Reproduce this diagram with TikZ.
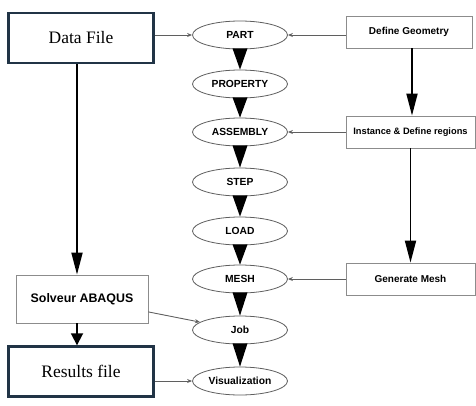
\documentclass[tikz,border=0pt]{standalone}
\usepackage{fontspec}
\setmainfont{Liberation Serif}
\setsansfont{Liberation Sans}
\usetikzlibrary{arrows.meta,shapes.geometric,calc}
\definecolor{boxblue}{RGB}{33,52,70}
\definecolor{linegray}{RGB}{95,95,95}
\definecolor{boxgray}{RGB}{140,140,140}

\begin{document}
\begin{tikzpicture}[x=1pt,y=-1pt,
  stage/.style={ellipse,draw=linegray,fill=white,line width=0.8pt,minimum width=95pt,minimum height=28pt,inner sep=0pt,font=\sffamily\bfseries\fontsize{10.3}{12}\selectfont},
  filebox/.style={rectangle,draw=boxblue,line width=2.4pt,minimum width=145pt,minimum height=50pt,font=\fontsize{17.5}{20}\selectfont},
  taskbox/.style={rectangle,draw=boxgray,line width=0.8pt,minimum height=32pt,inner sep=0pt,font=\sffamily\bfseries\fontsize{10}{12}\selectfont},
  feed/.style={draw=linegray,line width=0.9pt,-{Stealth[length=5pt,width=4pt]}},
  flow/.style={draw=black,line width=1.8pt,-{Triangle[width=11pt,length=22pt]}}]
  \useasboundingbox (0,0) rectangle (476,405);
  \node[filebox] (datafile) at (81,38) {Data File};
  \node[filebox] (results) at (81,371.5) {Results file};
  \node[taskbox,minimum width=132pt,minimum height=48pt,font=\sffamily\bfseries\fontsize{12.4}{14}\selectfont] (solveur) at (82,299) {Solveur ABAQUS};
  \node[taskbox,minimum width=126pt] (geometry) at (409,32) {Define Geometry};
  \node[taskbox,minimum width=129pt,font=\sffamily\bfseries\fontsize{9.3}{11}\selectfont] (instance) at (410.5,132) {Instance \& Define regions};
  \node[taskbox,minimum width=129pt] (genmesh) at (410.5,279) {Generate Mesh};
  \node[stage] (part) at (240,35) {PART};
  \node[stage] (property) at (240,84) {PROPERTY};
  \node[stage] (assembly) at (240,132) {ASSEMBLY};
  \node[stage] (step) at (240,182) {STEP};
  \node[stage] (load) at (240,231) {LOAD};
  \node[stage] (mesh) at (240,279) {MESH};
  \node[stage] (job) at (240,330) {Job};
  \node[stage] (visu) at (240,381) {Visualization};
  \foreach \a/\b in {part/property,property/assembly,assembly/step,step/load,load/mesh,mesh/job,job/visu}
    \fill ($(\a.south)+(-7.5,-1)$) -- ($(\a.south)+(7.5,-1)$) -- (\b.north) -- cycle;
  \draw[flow] ([xshift=-4pt]datafile.south) -- ([xshift=-4pt]datafile.south |- solveur.north);
  \draw[flow,-{Triangle[width=12pt,length=12pt]}] ([xshift=-5pt]solveur.south) -- ([xshift=-5pt]solveur.south |- results.north);
  \draw[flow] ([xshift=3pt]geometry.south) -- ([xshift=3pt]geometry.south |- instance.north);
  \draw[flow] (instance.south) -- (genmesh.north);
  \draw[feed] (datafile.east |- part) -- (part);
  \draw[feed] (geometry.west |- part) -- (part);
  \draw[feed] (instance) -- (assembly);
  \draw[feed] (genmesh) -- (mesh);
  \draw[feed] (solveur.-11) -- (job);
  \draw[feed] (results.east |- visu) -- (visu);
\end{tikzpicture}
\end{document}
